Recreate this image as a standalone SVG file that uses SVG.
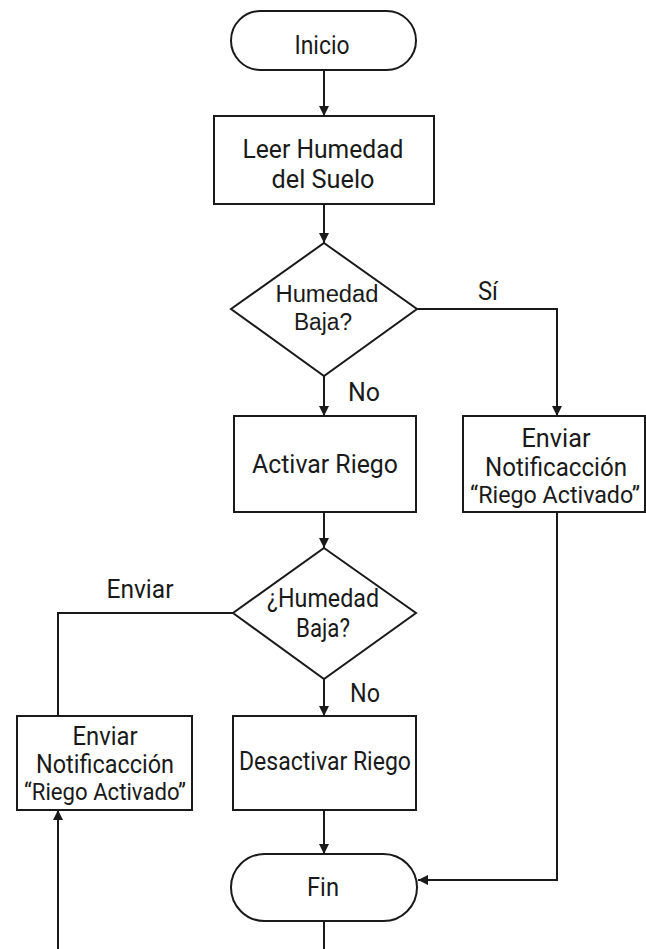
<svg xmlns="http://www.w3.org/2000/svg" width="646" height="949" viewBox="0 0 646 949">
<style>
.s{fill:#fff;stroke:#1a1a1a;stroke-width:2}
.c{fill:none;stroke:#1a1a1a;stroke-width:2}
text{font-family:Roboto,"Liberation Sans",sans-serif;font-size:25px;fill:#1a1a1a;text-anchor:middle}
.a{font-family:"Liberation Sans",Arial,sans-serif;font-size:23px}
.q{font-size:23px}
.l{text-anchor:start}
</style>
<defs>
<marker id="ah" viewBox="0 0 10 10" refX="10" refY="5" markerWidth="10" markerHeight="10" markerUnits="userSpaceOnUse" orient="auto">
<path d="M0,0 L10,5 L0,10 Z" fill="#1a1a1a"/>
</marker>
</defs>
<rect width="646" height="949" fill="#fff"/>
<g id="connectors">
<line class="c" x1="324" y1="70" x2="324" y2="116" marker-end="url(#ah)"/>
<line class="c" x1="324" y1="204" x2="324" y2="243" marker-end="url(#ah)"/>
<polyline class="c" points="417,309 557,309 557,416" marker-end="url(#ah)"/>
<line class="c" x1="324" y1="376" x2="324" y2="416" marker-end="url(#ah)"/>
<line class="c" x1="324" y1="512" x2="324" y2="548" marker-end="url(#ah)"/>
<polyline class="c" points="233,613 58,613 58,716"/>
<line class="c" x1="324" y1="679" x2="324" y2="716" marker-end="url(#ah)"/>
<line class="c" x1="324" y1="810" x2="324" y2="854" marker-end="url(#ah)"/>
<polyline class="c" points="557,512 557,880 418,880" marker-end="url(#ah)"/>
<line class="c" x1="324" y1="921" x2="324" y2="949"/>
<line class="c" x1="58" y1="949" x2="58" y2="810" marker-end="url(#ah)"/>
<text x="478" y="300" class="l" textLength="20" lengthAdjust="spacingAndGlyphs">Sí</text>
<text x="348" y="401" class="l" textLength="32" lengthAdjust="spacingAndGlyphs">No</text>
<text x="140" y="598" textLength="67" lengthAdjust="spacingAndGlyphs">Enviar</text>
<text x="350" y="702" class="l" textLength="30" lengthAdjust="spacingAndGlyphs">No</text>
</g>
<g id="inicio">
<rect class="s" x="231" y="11" width="185" height="59" rx="29.5"/>
<text x="322" y="54" textLength="55" lengthAdjust="spacingAndGlyphs">Inicio</text>
</g>
<g id="leer">
<rect class="s" x="214" y="116" width="220" height="88"/>
<text x="323" y="158" textLength="161" lengthAdjust="spacingAndGlyphs">Leer Humedad</text>
<text x="323" y="188" textLength="103" lengthAdjust="spacingAndGlyphs">del Suelo</text>
</g>
<g id="decision1">
<polygon class="s" points="324,243 417,309 324,376 231,309"/>
<text class="a" x="327" y="302" textLength="103" lengthAdjust="spacingAndGlyphs">Humedad</text>
<text class="a" x="323" y="330" textLength="58" lengthAdjust="spacingAndGlyphs">Baja?</text>
</g>
<g id="activar">
<rect class="s" x="234" y="416" width="182" height="96"/>
<text x="325" y="473" textLength="146" lengthAdjust="spacingAndGlyphs">Activar Riego</text>
</g>
<g id="notif1">
<rect class="s" x="463" y="416" width="182" height="96"/>
<text x="556" y="447" textLength="69" lengthAdjust="spacingAndGlyphs">Enviar</text>
<text x="556" y="476" textLength="142" lengthAdjust="spacingAndGlyphs">Notificacción</text>
<text class="q" x="555" y="503" textLength="170" lengthAdjust="spacingAndGlyphs">“Riego Activado”</text>
</g>
<g id="decision2">
<polygon class="s" points="324,548 416,613 324,679 233,613"/>
<text x="323" y="607" textLength="112" lengthAdjust="spacingAndGlyphs">¿Humedad</text>
<text x="323" y="637" textLength="54" lengthAdjust="spacingAndGlyphs">Baja?</text>
</g>
<g id="desactivar">
<rect class="s" x="233" y="716" width="183" height="94"/>
<text x="325" y="770" textLength="172" lengthAdjust="spacingAndGlyphs">Desactivar Riego</text>
</g>
<g id="notif2">
<rect class="s" x="17" y="716" width="175" height="94"/>
<text x="105" y="745" textLength="65" lengthAdjust="spacingAndGlyphs">Enviar</text>
<text x="105" y="773" textLength="138" lengthAdjust="spacingAndGlyphs">Notificacción</text>
<text class="q" x="105" y="800" textLength="162" lengthAdjust="spacingAndGlyphs">“Riego Activado”</text>
</g>
<g id="fin">
<rect class="s" x="231" y="854" width="186" height="67" rx="33.5"/>
<text x="323" y="896" textLength="32" lengthAdjust="spacingAndGlyphs">Fin</text>
</g>
</svg>
